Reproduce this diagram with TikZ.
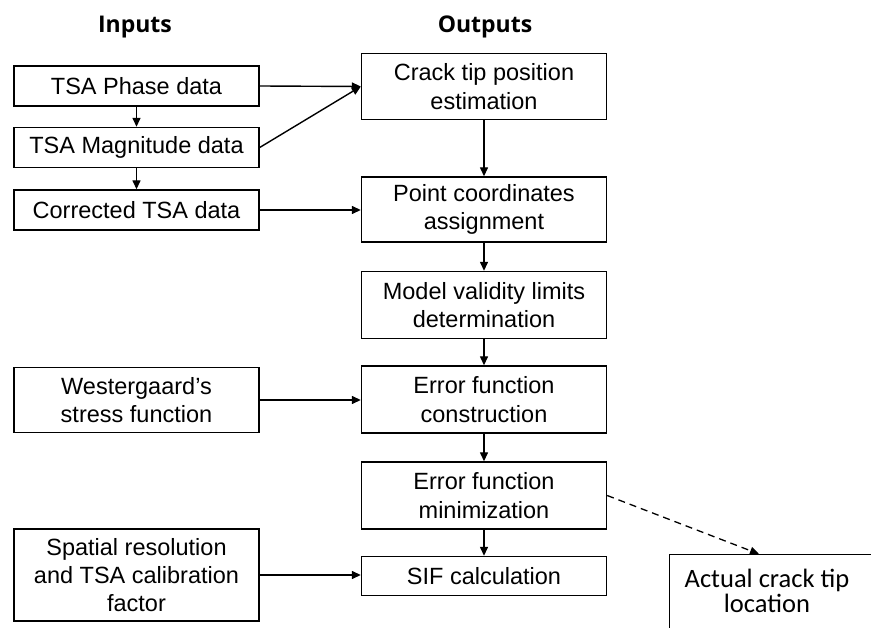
\documentclass[tikz,border=0pt]{standalone}
\usepackage{fontspec}
\setmainfont{Liberation Sans}
\newfontfamily\headfont{Open Sans}
\newfontfamily\calfont{Carlito}
\usetikzlibrary{arrows.meta,calc}
\begin{document}
\begin{tikzpicture}[x=1pt,y=-1pt,
  box/.style={draw,line width=1.4pt,minimum width=245pt,inner sep=0pt,align=center,
    font=\fontsize{23.5}{28.3}\selectfont},
  head/.style={font=\headfont\bfseries\fontsize{23}{26}\selectfont,inner sep=0pt},
  arr/.style={line width=1.4pt,-{Triangle[length=9pt,width=8pt]}},
  darr/.style={line width=1.3pt,dash pattern=on 7pt off 5pt,-{Triangle[length=9pt,width=8pt]}}]
\useasboundingbox (0,0) rectangle (871,628);
% headers
\node[head] (hin) at (135,27) {Inputs};
\node[head] (hout) at (485,27) {Outputs};
% inputs
\node[box,minimum height=40pt] (phase) at (136.5,86) {TSA Phase data};
\node[box,minimum height=40pt] (mag) at (136.5,147.5) {TSA Magnitude data};
\node[box,minimum height=40pt] (corr) at (136.5,210) {Corrected TSA data};
\node[box,minimum height=65pt] (west) at (136.5,400) {Westergaard’s\\stress function};
\node[box,minimum height=92pt] (spat) at (136.5,575) {Spatial resolution\\and TSA calibration\\factor};
% outputs
\node[box,minimum height=66pt] (crack) at (484,86.5) {Crack tip position\\estimation};
\node[box,minimum height=65pt] (point) at (484,209.5) {Point coordinates\\assignment};
\node[box,minimum height=67pt] (model) at (484,305) {Model validity limits\\determination};
\node[box,minimum height=67pt] (cons) at (484,399.5) {Error function\\construction};
\node[box,minimum height=67pt] (min) at (484,495.5) {Error function\\minimization};
\node[box,minimum height=39pt] (sif) at (484,576) {SIF calculation};
% actual crack tip (clipped by page)
\node[draw,line width=1.3pt,minimum width=206pt,minimum height=95pt,anchor=north west,
  align=center,inner sep=0pt,text depth=0pt] (actual) at (669,554) {};
\node[font=\calfont\fontsize{26.5}{25}\selectfont,align=center,inner sep=0pt,anchor=north]
  (actualtxt) at (767,569) {Actual crack tip\\location};
% connectors
\draw[arr] (phase) -- (mag);
\draw[arr] (mag) -- (corr);
\draw[arr] (phase.east) -- (crack.west);
\draw[arr] (mag.east) -- (crack.west);
\draw[arr] (corr.east) -- (corr.east -| point.west);
\draw[arr] (crack) -- (point);
\draw[arr] (point) -- (model);
\draw[arr] (model) -- (cons);
\draw[arr] (west.east) -- (west.east -| cons.west);
\draw[arr] (cons) -- (min);
\draw[arr] (min) -- (sif);
\draw[arr] (spat.east) -- (spat.east -| sif.west);
\coordinate (atop) at ($(actual.north west)+(90,0)$);
\draw[darr] (min.east) -- (atop);
\end{tikzpicture}
\end{document}
